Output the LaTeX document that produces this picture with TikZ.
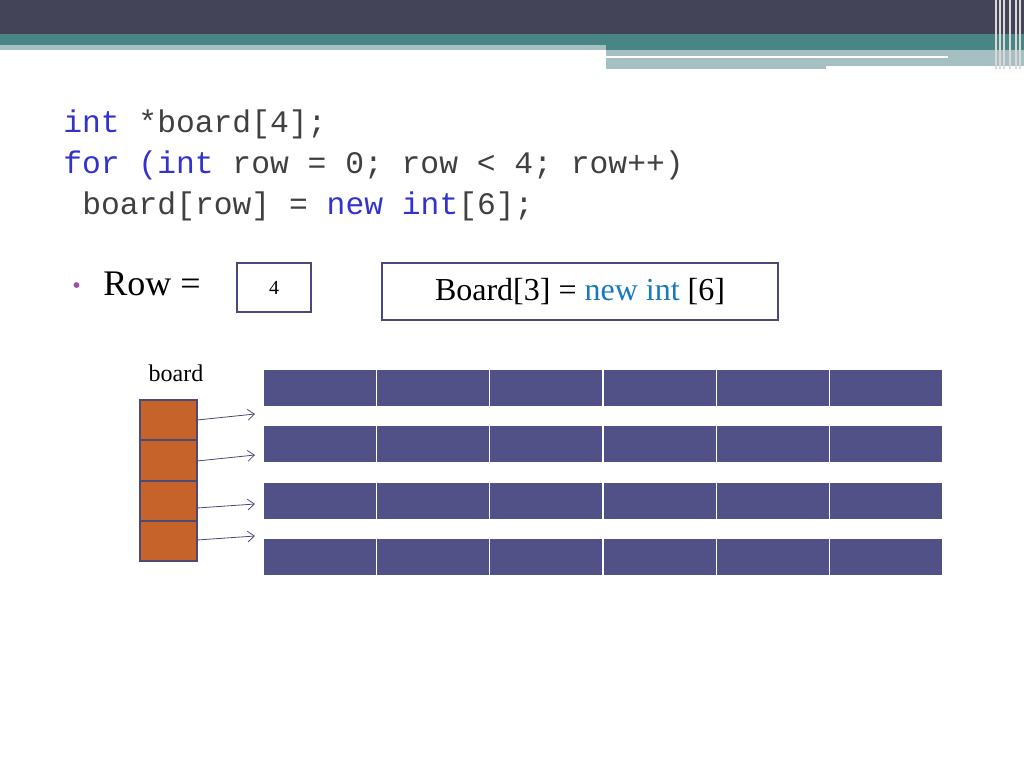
\documentclass[tikz,border=0pt]{standalone}
\usepackage{fontspec}
\setmainfont{Liberation Serif}
\setmonofont{Liberation Mono}
\begin{document}
\begin{tikzpicture}[x=0.75pt,y=-0.75pt,
 cell/.style={fill=gridblue,draw=white,line width=1pt},
 ptr/.style={fill=ptrorange,draw=ptredge,line width=1.2pt},
 arr/.style={draw=ptredge,line width=0.6pt,-{Straight Barb[length=5pt,width=8pt]}},
 code/.style={anchor=base west,inner sep=0,font=\ttfamily\fontsize{23.5}{28}\selectfont,text=codegray}]
\definecolor{gridblue}{HTML}{515187}
\definecolor{ptrorange}{HTML}{C5632B}
\definecolor{ptredge}{HTML}{4A4A78}
\definecolor{codegray}{HTML}{404040}
\definecolor{kw}{HTML}{3333CC}
\definecolor{dark}{HTML}{444459}
\definecolor{teal}{HTML}{4A8585}
\definecolor{lteal}{HTML}{A6BFC3}
\definecolor{nblue}{HTML}{1878C0}
\usetikzlibrary{arrows.meta}
\useasboundingbox (0,0) rectangle (1024,768);
% banner
\fill[dark] (0,0) rectangle (1024,34);
\fill[teal] (0,34) rectangle (1024,45);
\fill[lteal] (0,45) rectangle (606,50);
\fill[teal] (606,45) rectangle (1024,50);
\fill[lteal] (606,50) rectangle (1024,69);
\fill[white] (606,56) rectangle (948,58);
\fill[white] (826,66) rectangle (1024,69);
\foreach \xx in {996,1000,1004,1010,1016,1020} \draw[white!70!gray,line width=0.8pt] (\xx,0) -- (\xx,69);
% code
\node[code] (c1) at (63,132) {\textcolor{kw}{int} *board[4];};
\node[code] (c2) at (63,173) {\textcolor{kw}{for (int} row = 0; row < 4; row++)};
\node[code] (c3) at (82,214) {board[row] = \textcolor{kw}{new} \textcolor{kw}{int}[6];};
% bullet
\node[anchor=base west,inner sep=0,text=purple!60!blue!70,font=\fontsize{18}{20}\selectfont] (bul) at (72,293) {•};
\node[anchor=base west,inner sep=0,font=\fontsize{27}{30}\selectfont] (rowl) at (103,295) {Row =};
\node[draw=ptredge,line width=1.2pt,minimum width=55.5pt,minimum height=36.75pt] (four) at (274,287.5) {\fontsize{15}{18}\selectfont 4};
\node[draw=ptredge,line width=1.2pt,minimum width=297pt,minimum height=42.75pt] (bx) at (580,291.5) {\fontsize{24}{28}\selectfont Board[3] = \textcolor{nblue}{new int} [6]};
% board
\node[font=\fontsize{18}{20}\selectfont] (bl) at (176,373) {board};
\foreach \i/\ya/\yb/\ay/\by in {0/400/440/420/414,1/440/481/461/455,2/481/521/508/504,3/521/561/540/536}{
 \draw[ptr] (140,\ya) rectangle (197,\yb);
 \coordinate (p\i) at (197,\ay);
 \coordinate (q\i) at (255,\by);
 \draw[arr] (p\i) -- (q\i);
}
\foreach \ya/\yb in {369/407,425/463,482/520,538/576}
 \foreach \c in {0,...,5}
  \draw[cell] ({263+113.33*\c},\ya) rectangle ({263+113.33*(\c+1)},\yb);
\end{tikzpicture}
\end{document}
